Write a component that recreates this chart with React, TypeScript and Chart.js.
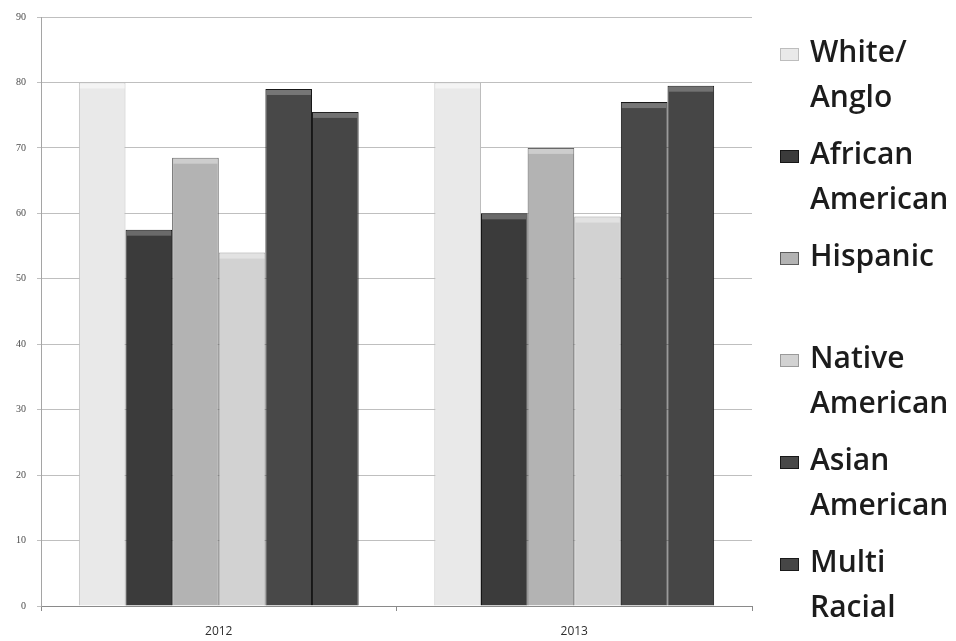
import React, { useEffect, useRef } from "react";
import { Chart, registerables } from "chart.js";

Chart.register(...registerables);

// Survey years on the category axis
const categories = ["2012", "2013"];

// Percent values per group, one entry per year
const whiteAnglo = [80, 80];
const africanAmerican = [57.5, 60];
const hispanic = [68.5, 70];
const nativeAmerican = [54, 59.5];
const asianAmerican = [79, 77];
const multiRacial = [75.5, 79.5];

// Legend text, split over two lines as printed
const seriesLabels = [
  ["White/", "Anglo"],
  ["African", "American"],
  ["Hispanic"],
  ["Native", "American"],
  ["Asian", "American"],
  ["Multi", "Racial"],
];

// Value axis range and step
const yMin = 0;
const yMax = 90;
const yStep = 10;

const fills = ["#e9e9e9", "#3b3b3b", "#b3b3b3", "#d2d2d2", "#484848", "#464646"];
const edges = ["#bdbdbd", "#161616", "#5c5c5c", "#9a9a9a", "#181818", "#1a1a1a"];
const caps = ["#f4f4f4", "#6a6a6a", "#cdcdcd", "#e2e2e2", "#767676", "#727272"];

// Lighter band along the top of each bar, giving the bevelled look
const barCaps = {
  id: "barCaps",
  afterDatasetsDraw(chart: any) {
    const ctx = chart.ctx;
    chart.data.datasets.forEach((_ds: any, di: number) => {
      const meta = chart.getDatasetMeta(di);
      meta.data.forEach((bar: any) => {
        const w = bar.width;
        const left = bar.x - w / 2;
        ctx.save();
        ctx.fillStyle = caps[di];
        ctx.fillRect(left + 1, bar.y + 1, w - 2, 5);
        ctx.restore();
      });
    });
  },
};

export default function App() {
  const canvasRef = useRef<HTMLCanvasElement | null>(null);

  useEffect(() => {
    const canvas = canvasRef.current;
    if (!canvas) return;
    const values = [whiteAnglo, africanAmerican, hispanic, nativeAmerican, asianAmerican, multiRacial];
    const chart = new Chart(canvas, {
      type: "bar",
      data: {
        labels: categories,
        datasets: values.map((v, i) => ({
          label: seriesLabels[i].join(" "),
          data: v,
          backgroundColor: fills[i],
          borderColor: edges[i],
          borderWidth: { left: 1, right: 1, top: 1, bottom: 0 },
          borderSkipped: "bottom",
          categoryPercentage: 0.787,
          barPercentage: 1.0,
        })),
      },
      plugins: [barCaps],
      options: {
        animation: false,
        responsive: false,
        maintainAspectRatio: false,
        layout: { padding: { left: 0, right: 204, top: 16, bottom: 0 } },
        plugins: {
          legend: { display: false },
          tooltip: { enabled: false },
        },
        scales: {
          x: {
            offset: true,
            grid: {
              display: true,
              drawOnChartArea: false,
              drawTicks: true,
              tickLength: 5,
              color: "#8a8a8a",
              offset: true,
            },
            border: { display: true, color: "#8a8a8a", width: 1 },
            ticks: {
              color: "#2e2e2e",
              padding: 13,
              font: { family: "'Open Sans', sans-serif", size: 12 },
            },
            afterFit: (s: any) => {
              s.height = 35;
            },
          },
          y: {
            min: yMin,
            max: yMax,
            ticks: {
              stepSize: yStep,
              color: "#4a4a4a",
              padding: 11,
              font: { family: "'Liberation Serif', serif", size: 10 },
            },
            grid: {
              color: "#bfbfbf",
              lineWidth: 1,
              drawTicks: true,
              tickLength: 4,
            },
            border: { display: true, color: "#a5a5a5", width: 1 },
            afterFit: (s: any) => {
              s.width = 41;
            },
          },
        },
      },
    });
    return () => chart.destroy();
  }, []);

  return (
    <div
      style={{
        position: "fixed",
        left: 0,
        top: 0,
        width: 956,
        height: 641,
        background: "#ffffff",
        overflow: "hidden",
      }}
    >
      <canvas ref={canvasRef} width={956} height={641} style={{ display: "block" }} />
      <div
        style={{
          position: "absolute",
          left: 780,
          top: 28,
          fontFamily: "'Open Sans', sans-serif",
          fontSize: 30,
          fontWeight: 600,
          lineHeight: "45px",
          color: "#1c1c1c",
        }}
      >
        {seriesLabels.map((lines, i) => (
          <div key={i} style={{ position: "relative", height: 90, marginBottom: 12 }}>
            <span
              style={{
                position: "absolute",
                left: 0,
                top: 20,
                width: 19,
                height: 13,
                background: fills[i],
                border: `1px solid ${edges[i]}`,
                boxSizing: "border-box",
              }}
            />
            <div style={{ position: "absolute", left: 30, top: 0, whiteSpace: "nowrap" }}>
              {lines.map((t, j) => (
                <div key={j}>{t}</div>
              ))}
            </div>
          </div>
        ))}
      </div>
    </div>
  );
}
